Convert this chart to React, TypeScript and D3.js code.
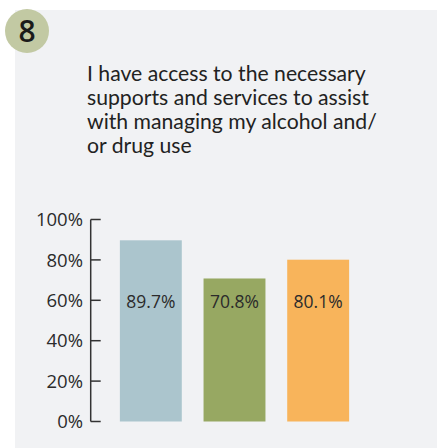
import React from "react";
import * as d3 from "d3";

const categories = ["A", "B", "C"];
const values = [89.7, 70.8, 80.1];
const colors = ["#abc5cd", "#97a862", "#f8b45b"];
const yTicks = [0, 20, 40, 60, 80, 100];
const titleLines = [
  "I have access to the necessary",
  "supports and services to assist",
  "with managing my alcohol and/",
  "or drug use",
];
const badge = "8";

export default function App() {
  const W = 437, H = 448;
  const y = d3.scaleLinear().domain([0, 100]).range([421.5, 219.5]);
  const x = d3.scaleBand().domain(categories).range([109, 360]).paddingInner(0.26).paddingOuter(0.13);
  const axisX = 90.7;
  const tickFont = "'Open Sans', sans-serif";
  return (
    <svg width={W} height={H} style={{ position: "absolute", left: 0, top: 0 }}>
      <rect x={15} y={10} width={W - 15} height={H - 10} fill="#f1f2f4" />
      <circle cx={27} cy={31} r={22} fill="#c2c9a3" />
      <text x={27} y={31} dy="0.36em" textAnchor="middle" fontFamily="'Open Sans', sans-serif" fontWeight={600} fontSize={30} fill="#1a1a1a">{badge}</text>
      {titleLines.map((t, i) => (
        <text key={i} x={87} y={81 + i * 24} fontFamily="Lato, sans-serif" fontSize={21.2} fill="#222">{t}</text>
      ))}
      {categories.map((c, i) => (
        <rect key={c} x={x(c)} y={y(values[i])} width={x.bandwidth()} height={y(0) - y(values[i])} fill={colors[i]} />
      ))}
      {categories.map((c, i) => (
        <text key={"l" + c} x={(x(c) as number) + x.bandwidth() / 2} y={y(60)} dy="0.45em" textAnchor="middle" fontFamily={tickFont} fontSize={17.5} fill="#2b2b2b">{values[i].toFixed(1)}%</text>
      ))}
      <line x1={axisX} x2={axisX} y1={y(100)} y2={y(0)} stroke="#333" strokeWidth={1.5} />
      {yTicks.map((t) => (
        <g key={t}>
          <line x1={axisX} x2={axisX + 10} y1={y(t)} y2={y(t)} stroke="#333" strokeWidth={1.5} />
          <text x={83} y={y(t)} dy="0.36em" textAnchor="end" fontFamily={tickFont} fontSize={18.5} fill="#2b2b2b">{t}%</text>
        </g>
      ))}
    </svg>
  );
}
